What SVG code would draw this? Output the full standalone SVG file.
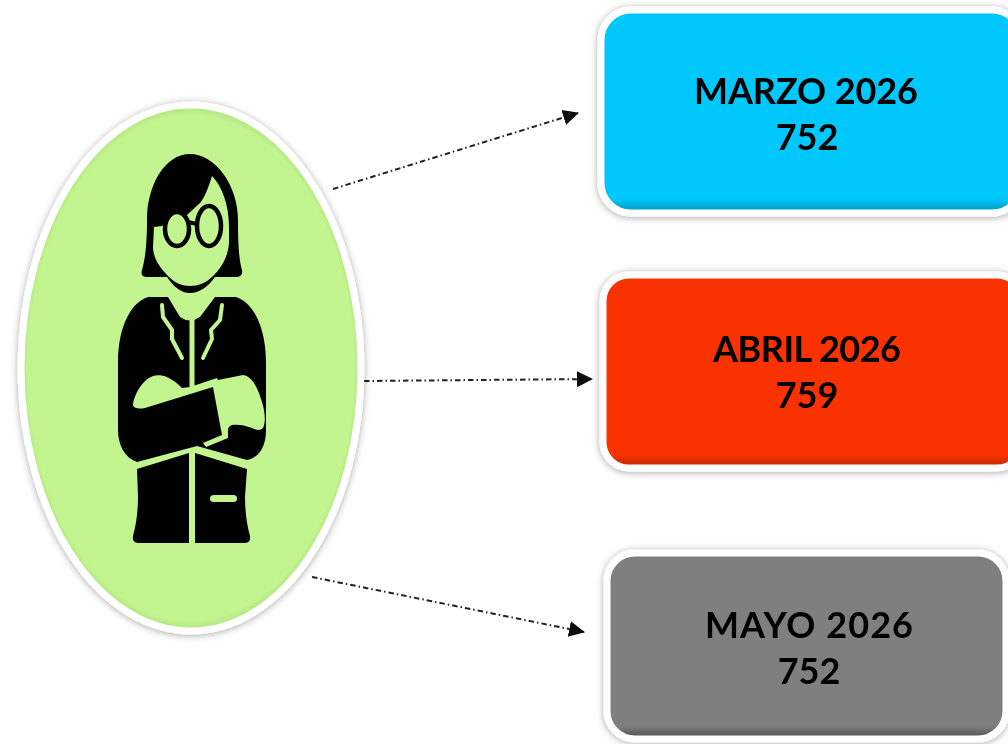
<svg xmlns="http://www.w3.org/2000/svg" width="1008" height="744" viewBox="0 0 1008 744">
<style>
.box{stroke:#fff;stroke-width:7;filter:url(#sh)}
.lbl{font-family:"Lato","Liberation Sans",sans-serif;font-weight:700;font-size:36px;fill:#050505;text-anchor:middle;filter:url(#soft)}
.con{fill:none;stroke:#222;stroke-width:2;stroke-dasharray:5.5 3 1.5 3;marker-end:url(#ah);filter:url(#soft)}
.blk{fill:#050505}
.grn{fill:#c2f48f}
.lap{fill:none;stroke:#c2f48f;stroke-width:4;stroke-linecap:round;stroke-linejoin:round}
</style>
<defs>
<filter id="sh" x="-10%" y="-10%" width="120%" height="120%"><feDropShadow dx="0" dy="1" stdDeviation="3.5" flood-color="#000" flood-opacity=".35"/></filter>
<filter id="soft" filterUnits="userSpaceOnUse" x="0" y="0" width="1008" height="744"><feGaussianBlur stdDeviation=".5"/></filter>
<marker id="ah" markerUnits="userSpaceOnUse" markerWidth="18" markerHeight="18" refX="15" refY="8" orient="auto"><path d="M0 0L16 8L0 16Z" fill="#111"/></marker>
<linearGradient id="gb" x1="0" y1="0" x2="0" y2="1"><stop offset="0" stop-color="#00b4e6"/><stop offset=".03" stop-color="#00c8fc"/><stop offset=".93" stop-color="#00c8fc"/><stop offset="1" stop-color="#0092ba"/></linearGradient>
<linearGradient id="gr" x1="0" y1="0" x2="0" y2="1"><stop offset="0" stop-color="#e83000"/><stop offset=".03" stop-color="#fa3300"/><stop offset=".93" stop-color="#fa3300"/><stop offset="1" stop-color="#b82600"/></linearGradient>
<linearGradient id="gg" x1="0" y1="0" x2="0" y2="1"><stop offset="0" stop-color="#707070"/><stop offset=".03" stop-color="#7f7f7f"/><stop offset=".93" stop-color="#7f7f7f"/><stop offset="1" stop-color="#4c4c4c"/></linearGradient>
<radialGradient id="ge" cx=".5" cy=".5" r=".5"><stop offset="0" stop-color="#c2f48f"/><stop offset=".96" stop-color="#c2f48f"/><stop offset="1" stop-color="#aee07c"/></radialGradient>
</defs>
<rect width="1008" height="744" fill="#fff"/>
<g id="connectors">
<path class="con" d="M333 189L578 113"/>
<path class="con" d="M364 381L592 379"/>
<path class="con" d="M312 577L584 632"/>
</g>
<g id="person">
<ellipse cx="191" cy="368" rx="170" ry="263" fill="url(#ge)" stroke="#fff" stroke-width="7" filter="url(#sh)"/>
<g filter="url(#soft)">
<path class="blk" d="M190 154C165 154 147 185 147 220C147 245 145 260 142 270Q140 277 147 277L167 277C174 287 181 293 190 293C199 293 208 287 215 277L237 277Q243 277 242 270C239 260 238 245 238 220C238 185 215 154 190 154Z"/>
<path class="grn" d="M154 227L162 226L187 215L200 203C205 197 209 186 212 176C222 186 229 205 229 227L229 243C228 256 222 268 212 277C206 283 198 286 190 286C182 286 175 283 169 277C160 268 153 258 153 247Z"/>
<ellipse cx="177" cy="229" rx="12" ry="17" fill="#c2f48f" stroke="#050505" stroke-width="4.5"/>
<ellipse cx="209" cy="226" rx="12" ry="20" fill="#c2f48f" stroke="#050505" stroke-width="4.5"/>
<path d="M187 222L198 224" stroke="#050505" stroke-width="4" fill="none"/>
<path class="blk" d="M168 297L180 317Q190 324 200 317L215 297L236 297C252 302 266 325 266 363L266 430C266 448 258 458 247 460L197 446L137 462C125 458 118 445 118 430L118 363C118 325 132 302 148 297Z"/>
<path class="blk" d="M137 469L189 453L189 543L138 543Q132 543 133 536C136 525 138 512 138 497Z"/>
<path class="blk" d="M247 469L195 453L195 543L245 543Q251 543 250 536C247 525 245 512 245 497Z"/>
<rect x="189.500" y="318" width="5" height="71" class="grn"/>
<path class="lap" d="M162 305L163 317L172 330L172 339L182 358"/>
<path class="lap" d="M222 305L220 320L211 330L212 339L203 358"/>
<path class="grn" d="M133 405C134 395 142 380 153 376C161 374 168 377 172 380C176 382 180 386 182 388L190 387L217 378L218 380L243 375C252 376 258 388 262 402C265 412 266 422 263 428C260 431 256 430 252 428C245 425 237 424 232 425C229 426 228 428 228 430L228 438L206 447L203 443L222 435L213 387L145 408C140 409 134 409 133 405Z"/>
<rect x="210" y="495" width="27" height="7" rx="3.500" class="grn"/>
</g>
</g>
<g id="node-marzo">
<rect class="box" x="601" y="10" width="421" height="203" rx="30" fill="url(#gb)"/>
<text class="lbl" x="806" y="104" textLength="224">MARZO 2026</text>
<text class="lbl" x="807" y="150">752</text>
</g>
<g id="node-abril">
<rect class="box" x="603" y="275" width="420" height="193" rx="26" fill="url(#gr)"/>
<text class="lbl" x="807" y="362" textLength="188">ABRIL 2026</text>
<text class="lbl" x="807" y="408">759</text>
</g>
<g id="node-mayo">
<rect class="box" x="607" y="553" width="399" height="186" rx="28" fill="url(#gg)"/>
<text class="lbl" x="809" y="638" textLength="208">MAYO 2026</text>
<text class="lbl" x="809" y="684">752</text>
</g>
</svg>
